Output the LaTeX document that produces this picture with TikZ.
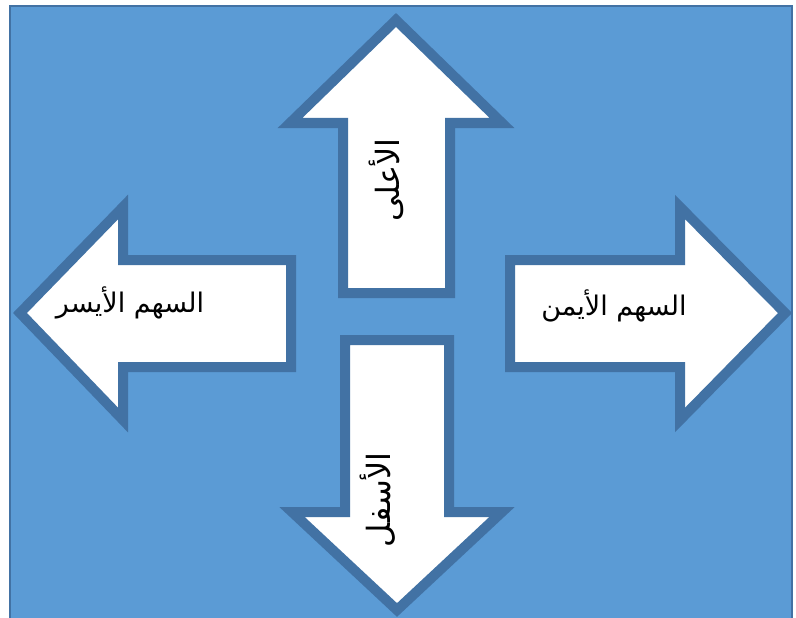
\documentclass[tikz,border=0pt]{standalone}
\usepackage{fontspec}
\newfontfamily\arabicfont[Script=Arabic]{DejaVu Sans}
\TeXXeTstate=1
\definecolor{bgblue}{HTML}{5B9BD5}
\definecolor{edgeblue}{HTML}{4272A4}
\tikzset{
  arrowshape/.style={fill=white, draw=edgeblue, line width=10pt, line join=miter},
  lbl/.style={font=\arabicfont\fontsize{27}{31}\selectfont, text=black, inner sep=0pt}
}
\begin{document}
\begin{tikzpicture}[x=1pt,y=-1pt]
\useasboundingbox (0,0) rectangle (796,618);
\fill[white] (0,0) rectangle (796,618);
\begin{scope}
\clip (0,0) rectangle (796,618);
\draw[fill=bgblue, draw=edgeblue, line width=2pt] (10,6) rectangle (792,630);
% up arrow
\draw[arrowshape] (396,20) -- (502,123) -- (450,123) -- (450,293) -- (343,293) -- (343,123) -- (290,123) -- cycle;
% down arrow
\draw[arrowshape] (397,610) -- (292,512) -- (345,512) -- (345,340) -- (449,340) -- (449,512) -- (502,512) -- cycle;
% left arrow
\draw[arrowshape] (20,313) -- (123,207) -- (123,260) -- (291,260) -- (291,367) -- (123,367) -- (123,420) -- cycle;
% right arrow
\draw[arrowshape] (785,313) -- (680,207) -- (680,260) -- (510,260) -- (510,367) -- (680,367) -- (680,420) -- cycle;
\end{scope}
\node[lbl, rotate=90, font=\arabicfont\fontsize{32}{36}\selectfont] (up) at (386,180) {\beginR الأعلى\endR};
\node[lbl, rotate=90, font=\arabicfont\fontsize{32}{36}\selectfont] (down) at (378,500) {\beginR الأسفل\endR};
\node[lbl] (left) at (130,303) {\beginR السهم الأيسر\endR};
\node[lbl] (right) at (614,306) {\beginR السهم  الأيمن\endR};
\end{tikzpicture}
\end{document}
